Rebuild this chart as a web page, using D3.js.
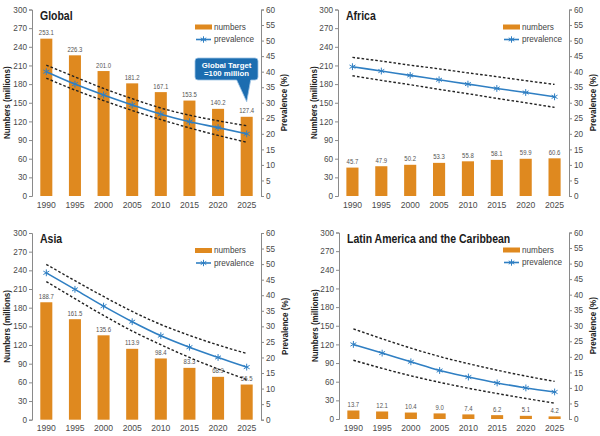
<!DOCTYPE html>
<html><head><meta charset="utf-8">
<script src="https://cdn.jsdelivr.net/npm/d3@7"></script>
<style>body{margin:0;background:#fff}svg{display:block}</style>
</head><body><svg id="c" width="600" height="436"></svg>
<script>
// ---- data ----
const years = ["1990","1995","2000","2005","2010","2015","2020","2025"];
const leftTicks = [0,30,60,90,120,150,180,210,240,270,300];
const rightTicks = [0,5,10,15,20,25,30,35,40,45,50,55,60];

const globalNumbers = [253.1,226.3,201.0,181.2,167.1,153.5,140.2,127.4];
const globalPrev    = [40.0,36.0,32.5,29.3,26.3,23.9,22.0,20.0];
const globalUpper   = [42.1,38.3,34.6,31.3,28.3,26.0,24.2,22.6];
const globalLower   = [37.9,34.1,30.7,27.5,24.6,21.9,19.5,17.3];

const africaNumbers = [45.7,47.9,50.2,53.3,55.8,58.1,59.9,60.6];
const africaPrev    = [41.6,40.2,38.8,37.4,36.0,34.6,33.3,31.9];
const africaUpper   = [44.6,43.4,42.1,40.9,39.6,38.4,37.1,35.9];
const africaLower   = [38.7,37.2,35.8,34.3,32.9,31.4,30.0,28.5];

const asiaNumbers = [188.7,161.5,135.6,113.9,98.4,83.3,68.9,56.5];
const asiaPrev    = [47.2,41.9,36.5,31.5,27.0,23.3,20.0,16.9];
const asiaUpper   = [49.9,44.7,39.6,34.8,30.6,27.1,24.0,21.3];
const asiaLower   = [44.4,38.9,33.5,28.5,24.1,20.0,16.3,12.9];

const latamNumbers = [13.7,12.1,10.4,9.0,7.4,6.2,5.1,4.2];
const latamPrev    = [24.0,21.2,18.4,15.6,13.5,11.6,10.0,8.7];
const latamUpper   = [29.0,25.8,22.8,20.1,17.8,15.7,13.8,12.1];
const latamLower   = [18.9,16.3,13.9,11.8,9.9,8.2,6.6,5.1];

const titles = ["Global","Africa","Asia","Latin America and the Caribbean"];
const legendLabels = ["numbers","prevalence"];
const yLeftTitle = "Numbers (millions)";
const yRightTitle = "Prevalence (%)";
const calloutLines = ["Global Target","=100 million"];

// ---- layout ----
const panels = [
  {title:titles[0], num:globalNumbers, prev:globalPrev, up:globalUpper, lo:globalLower, L:32, R:261, T:9.5, B:196, lt:7, rt:284},
  {title:titles[1], num:africaNumbers, prev:africaPrev, up:africaUpper, lo:africaLower, L:338, R:569, T:9.5, B:196, lt:314, rt:593},
  {title:titles[2], num:asiaNumbers, prev:asiaPrev, up:asiaUpper, lo:asiaLower, L:32, R:261, T:233, B:419.7, lt:7, rt:285},
  {title:titles[3], num:latamNumbers, prev:latamPrev, up:latamUpper, lo:latamLower, L:339, R:569, T:232.5, B:419, lt:315, rt:593}
];

const ORANGE = "#df891f", BLUE = "#2f7fc3", AX = "#8a8a8a", TXT = "#4a4a4a";
const svg = d3.select("#c");
const sans = "'Liberation Sans', Arial, sans-serif";
const SQ = 0.82; // condensed look

function star(r){
  const a=r*0.866, b=r*0.5;
  return `M0,${-r}L0,${r}M${-a},${-b}L${a},${b}M${-a},${b}L${a},${-b}`;
}

panels.forEach((p,i)=>{
  const g = svg.append("g");
  const x = d3.scaleBand().domain(years).range([p.L,p.R]).paddingInner(0.58).paddingOuter(0.29);
  const yL = d3.scaleLinear().domain([0,300]).range([p.B,p.T]);
  const yR = d3.scaleLinear().domain([0,60]).range([p.B,p.T]);
  const cx = d => x(d)+x.bandwidth()/2;

  // bars
  g.selectAll("rect.bar").data(years).join("rect")
    .attr("x", d=>x(d)).attr("width", x.bandwidth())
    .attr("y", (d,j)=>yL(p.num[j])).attr("height",(d,j)=>p.B-yL(p.num[j]))
    .attr("fill", ORANGE);
  // bar labels
  g.selectAll("text.bl").data(years).join("text")
    .attr("transform",(d,j)=>`translate(${cx(d)},${yL(p.num[j])-3.5}) scale(${SQ},1)`)
    .attr("text-anchor","middle").attr("font-family",sans).attr("font-size",7.3)
    .attr("fill","#555").text((d,j)=>p.num[j].toFixed(1));

  // axes
  const aL = g.append("g").attr("transform",`translate(${p.L},0)`)
    .call(d3.axisLeft(yL).tickValues(leftTicks).tickSize(3).tickSizeOuter(3).tickPadding(2));
  const aR = g.append("g").attr("transform",`translate(${p.R},0)`)
    .call(d3.axisRight(yR).tickValues(rightTicks).tickSize(3).tickSizeOuter(3).tickPadding(2));
  const aB = g.append("g").attr("transform",`translate(0,${p.B})`)
    .call(d3.axisBottom(x).tickSize(0).tickPadding(5.5));
  aB.select(".domain").remove();
  [aL,aR,aB].forEach(a=>{
    a.selectAll("path,line").attr("stroke",AX);
    a.selectAll("text").attr("fill",TXT).attr("font-family",sans).attr("font-size",8.2);
  });
  aB.selectAll("text").attr("font-size",8.6);

  // CI dashed
  const ln = d3.line().x((d,j)=>cx(years[j])).y(d=>yR(d)).curve(d3.curveMonotoneX);
  [p.up,p.lo].forEach(arr=>{
    g.append("path").attr("d",ln(arr)).attr("fill","none").attr("stroke","#222")
      .attr("stroke-width",1.4).attr("stroke-dasharray","2.6,2");
  });
  // prevalence line
  g.append("path").attr("d",ln(p.prev)).attr("fill","none").attr("stroke",BLUE).attr("stroke-width",1.6);
  g.selectAll("path.m").data(years).join("path")
    .attr("transform",(d,j)=>`translate(${cx(d)},${yR(p.prev[j])})`)
    .attr("d",star(3.4)).attr("stroke",BLUE).attr("stroke-width",1).attr("fill","none");

  // title
  g.append("text").attr("transform",`translate(${p.L+8},${p.T+10}) scale(${SQ},1)`).attr("font-family",sans)
    .attr("font-weight","bold").attr("font-size",12.8).attr("fill","#1a1a1a").text(p.title);

  // axis titles
  const mid = (p.T+p.B)/2;
  g.append("text").attr("transform",`translate(${p.lt},${mid}) rotate(-90) scale(${SQ},1)`).attr("dy","0.35em")
    .attr("text-anchor","middle").attr("font-family",sans).attr("font-weight","bold")
    .attr("font-size",9.8).attr("fill","#222").text(yLeftTitle);
  g.append("text").attr("transform",`translate(${p.rt},${mid}) rotate(-90) scale(${SQ},1)`).attr("dy","0.35em")
    .attr("text-anchor","middle").attr("font-family",sans).attr("font-weight","bold")
    .attr("font-size",9.8).attr("fill","#222").text(yRightTitle);

  // legend
  const lx = p.R - 66;
  g.append("rect").attr("x",lx).attr("y",p.T+15).attr("width",17).attr("height",5).attr("fill",ORANGE);
  g.append("text").attr("x",lx+19).attr("y",p.T+17.5).attr("dy","0.35em").attr("font-family",sans)
    .attr("font-size",8.2).attr("fill","#444").text(legendLabels[0]);
  g.append("line").attr("x1",lx+1).attr("x2",lx+16).attr("y1",p.T+30).attr("y2",p.T+30)
    .attr("stroke",BLUE).attr("stroke-width",1.6);
  g.append("path").attr("transform",`translate(${lx+8.5},${p.T+30})`).attr("d",star(3.2))
    .attr("stroke",BLUE).attr("stroke-width",1).attr("fill","none");
  g.append("text").attr("x",lx+19).attr("y",p.T+30).attr("dy","0.35em").attr("font-family",sans)
    .attr("font-size",8.2).attr("fill","#444").text(legendLabels[1]);

  // callout (Global only)
  if(i===0){
    const bx0=195, bx1=258, by0=58, by1=80, r=3;
    const tipX = cx(years[7]), tipY = yR(p.prev[7]) - 32;
    const d = `M${bx0+r},${by0}H${bx1-r}Q${bx1},${by0} ${bx1},${by0+r}V${by1-r}Q${bx1},${by1} ${bx1-r},${by1}`+
      `H${tipX+4}L${tipX},${tipY}L${tipX-10},${by1}H${bx0+r}Q${bx0},${by1} ${bx0},${by1-r}V${by0+r}Q${bx0},${by0} ${bx0+r},${by0}Z`;
    g.append("path").attr("d",d).attr("fill","#1c6db0").attr("stroke","#9cc3e4").attr("stroke-width",0.8);
    calloutLines.forEach((t,k)=>{
      g.append("text").attr("x",(bx0+bx1)/2).attr("y",by0+9.5+k*8.2).attr("text-anchor","middle")
        .attr("font-family",sans).attr("font-weight","bold").attr("font-size",7.8).attr("fill","#fff").text(t);
    });
  }
});
</script></body></html>
